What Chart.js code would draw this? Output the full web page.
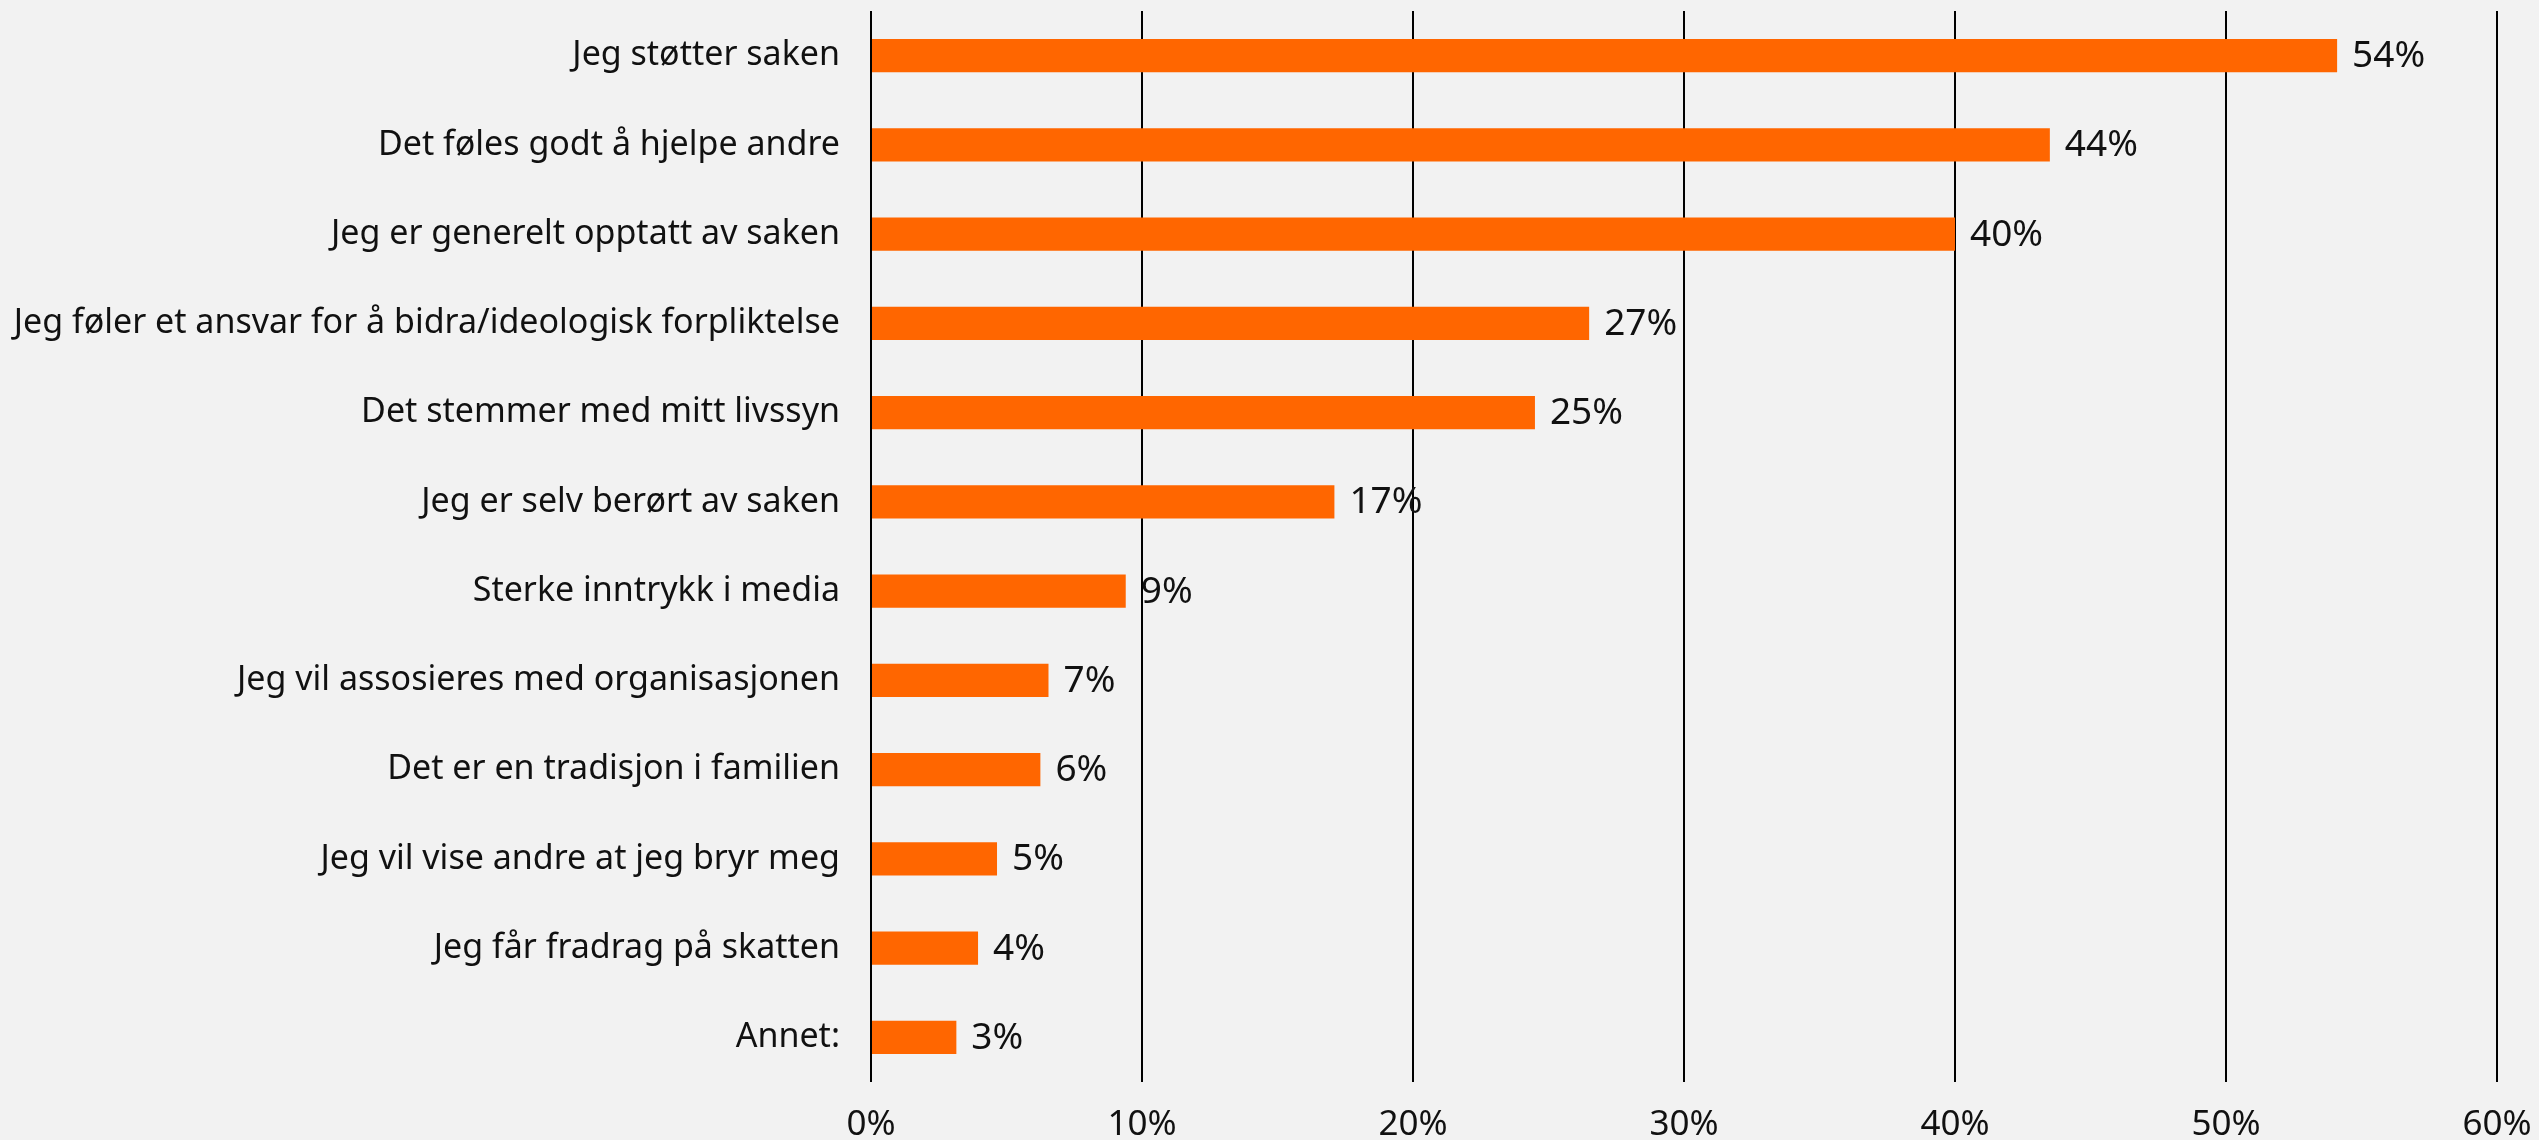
<!DOCTYPE html>
<html>
<head>
<meta charset="utf-8">
<script src="https://cdn.jsdelivr.net/npm/chart.js@4/dist/chart.umd.min.js"></script>
<style>
  html, body { margin: 0; padding: 0; background: #f2f2f2; }
  #wrap { width: 2539px; height: 1140px; }
</style>
</head>
<body>
<div id="wrap"><canvas id="reasons"></canvas></div>
<script>
const categories = [
  'Jeg støtter saken',
  'Det føles godt å hjelpe andre',
  'Jeg er generelt opptatt av saken',
  'Jeg føler et ansvar for å bidra/ideologisk forpliktelse',
  'Det stemmer med mitt livssyn',
  'Jeg er selv berørt av saken',
  'Sterke inntrykk i media',
  'Jeg vil assosieres med organisasjonen',
  'Det er en tradisjon i familien',
  'Jeg vil vise andre at jeg bryr meg',
  'Jeg får fradrag på skatten',
  'Annet:'
];
const shares = [54.1, 43.5, 40.0, 26.5, 24.5, 17.1, 9.4, 6.55, 6.25, 4.65, 3.95, 3.15];
const shareLabels = ['54%', '44%', '40%', '27%', '25%', '17%', '9%', '7%', '6%', '5%', '4%', '3%'];
const axisTicks = [0, 10, 20, 30, 40, 50, 60];

const FONT = '"Noto Sans", sans-serif';
const TEXT = '#111111';

// value text right of each bar
const valueLabels = {
  id: 'valueLabels',
  afterDatasetsDraw(chart) {
    const ctx = chart.ctx;
    const meta = chart.getDatasetMeta(0);
    ctx.save();
    ctx.font = '37px ' + FONT;
    ctx.fillStyle = TEXT;
    ctx.textAlign = 'left';
    ctx.textBaseline = 'middle';
    meta.data.forEach((bar, i) => {
      ctx.fillText(shareLabels[i], bar.x + 15, bar.y + 1);
    });
    ctx.restore();
  }
};

const ctx = document.getElementById('reasons').getContext('2d');
new Chart(ctx, {
  type: 'bar',
  data: {
    labels: categories,
    datasets: [{
      data: shares,
      backgroundColor: '#ff6600',
      borderWidth: 0,
      barPercentage: 0.373,
      categoryPercentage: 1
    }]
  },
  options: {
    indexAxis: 'y',
    responsive: true,
    maintainAspectRatio: false,
    animation: false,
    layout: { padding: { top: 11, right: 42, bottom: 0, left: 0 } },
    plugins: {
      legend: { display: false },
      tooltip: { enabled: false }
    },
    scales: {
      x: {
        min: 0,
        max: 60,
        afterFit: (scale) => {
          scale.height = 58;
          scale.paddingLeft = 0;
          scale.paddingRight = 0;
        },
        afterBuildTicks: (scale) => { scale.ticks = axisTicks.map(v => ({ value: v })); },
        grid: { color: '#000000', lineWidth: 2, drawTicks: false },
        border: { display: false },
        ticks: {
          padding: 22,
          color: TEXT,
          font: { family: FONT, size: 35 },
          callback: (v) => v + '%'
        }
      },
      y: {
        afterFit: (scale) => {
          scale.width = 871;
          scale.paddingTop = 0;
          scale.paddingBottom = 0;
        },
        grid: { display: false, drawTicks: false },
        border: { display: false },
        ticks: {
          padding: 31,
          color: TEXT,
          autoSkip: false,
          font: { family: FONT, size: 34 }
        }
      }
    }
  },
  plugins: [valueLabels]
});
</script>
</body>
</html>
